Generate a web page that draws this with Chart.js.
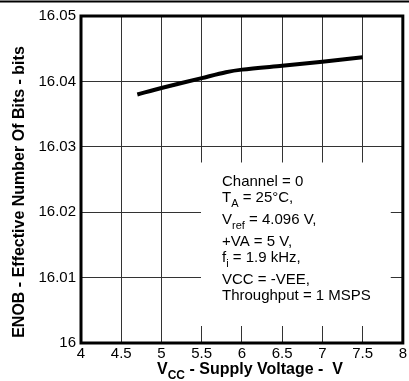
<!DOCTYPE html>
<html>
<head>
<meta charset="utf-8">
<script src="https://cdn.jsdelivr.net/npm/chart.js@4.4.1/dist/chart.umd.min.js"></script>
<style>
    html, body { margin: 0; padding: 0; background: #fff; }
    canvas { display: block; }
</style>
</head>
<body>
<canvas id="enobChart" width="409" height="381"></canvas>
<script>
// Data
const supplyVoltage = [4.7, 5.0, 5.5, 5.8, 6.0, 6.5, 7.0, 7.5];
const enobBits = [16.038, 16.039, 16.0405, 16.0414, 16.0418, 16.0424, 16.043, 16.0437];

// Axis ranges / ticks
const xTicks = { min: 4, max: 8, step: 0.5 };
const yTicks = { min: 16, max: 16.05, step: 0.01 };

// Conditions box: each line is a list of [text, isSubscript]
const noteLines = [
    [['Channel = 0', false]],
    [['T', false], ['A', true], [' = 25°C,', false]],
    [['V', false], ['ref', true], [' = 4.096 V,', false]],
    [['+VA = 5 V,', false]],
    [['f', false], ['i', true], [' = 1.9 kHz,', false]],
    [['VCC = -VEE,', false]],
    [['Throughput = 1 MSPS', false]]
];

const FONT = '"Liberation Sans", Arial, sans-serif';

// Draw a run of text pieces with subscripts
function drawPieces(ctx, pieces, x, y, size, bold) {
    const weight = bold ? 'bold ' : '';
    pieces.forEach(([txt, sub]) => {
        ctx.font = weight + (sub ? Math.round(size * 0.72) : size) + 'px ' + FONT;
        ctx.fillText(txt, x, sub ? y + 5 : y);
        x += ctx.measureText(txt).width;
    });
}

const decorPlugin = {
    id: 'decor',
    beforeDatasetsDraw(chart) {
        // white conditions box sits over the grid
        const ctx = chart.ctx;
        const xs = chart.scales.x, ys = chart.scales.y;
        const left = Math.round(xs.getPixelForValue(5.5)) - 1;
        const right = xs.getPixelForValue(7.85);
        const top = ys.getPixelForValue(16.0276);
        const bottom = ys.getPixelForValue(16.0026);
        ctx.save();
        ctx.fillStyle = '#fff';
        ctx.fillRect(left, top, right - left, bottom - top);

        ctx.fillStyle = '#000';
        ctx.textBaseline = 'alphabetic';
        let y = top + 24;
        let prevSub = false;
        noteLines.forEach((line, i) => {
            if (i > 0) y += prevSub ? 22 : 16;
            drawPieces(ctx, line, left + 21, y, 15, false);
            prevSub = line.some(p => p[1]);
        });
        ctx.restore();
    },
    afterDraw(chart) {
        const ctx = chart.ctx;
        const a = chart.chartArea;
        ctx.save();
        // plot frame
        ctx.strokeStyle = '#000';
        ctx.lineWidth = 3;
        ctx.strokeRect(a.left, a.top, a.right - a.left, a.bottom - a.top);
        // rule across the very top
        ctx.lineWidth = 2;
        ctx.beginPath();
        ctx.moveTo(0, 1.5);
        ctx.lineTo(chart.width, 1.5);
        ctx.stroke();

        ctx.fillStyle = '#000';
        // x axis title
        ctx.textBaseline = 'alphabetic';
        drawPieces(ctx, [['V', false], ['CC', true], [' - Supply Voltage -  V', false]], 157, 374, 16, true);
        // y axis title
        ctx.translate(20, 192);
        ctx.rotate(-Math.PI / 2);
        ctx.textAlign = 'center';
        ctx.textBaseline = 'middle';
        ctx.font = 'bold 16px ' + FONT;
        ctx.fillText('ENOB - Effective Number Of Bits - bits', 0, 0);
        ctx.restore();
    }
};

const points = supplyVoltage.map((v, i) => ({ x: v, y: enobBits[i] }));

new Chart(document.getElementById('enobChart'), {
    type: 'line',
    data: {
        datasets: [{
            data: points,
            borderColor: '#000',
            borderWidth: 4,
            pointRadius: 0,
            tension: 0.3,
            fill: false
        }]
    },
    options: {
        responsive: false,
        animation: false,
        layout: { padding: { top: 16, right: 2, left: 0, bottom: 0 } },
        plugins: { legend: { display: false }, tooltip: { enabled: false } },
        scales: {
            x: {
                type: 'linear',
                min: xTicks.min,
                max: xTicks.max,
                afterFit: s => { s.height = 38; },
                grid: { color: '#333', lineWidth: 1, drawTicks: false },
                border: { display: false },
                ticks: {
                    stepSize: xTicks.step,
                    padding: 2,
                    color: '#000',
                    maxRotation: 0,
                    font: { family: FONT, size: 15 },
                    callback: v => String(+v.toFixed(1))
                }
            },
            y: {
                min: yTicks.min,
                max: yTicks.max,
                afterFit: s => { s.width = 81; },
                grid: { color: '#333', lineWidth: 1, drawTicks: false },
                border: { display: false },
                ticks: {
                    stepSize: yTicks.step,
                    padding: 5,
                    color: '#000',
                    font: { family: FONT, size: 15 },
                    callback: v => String(+v.toFixed(2))
                }
            }
        }
    },
    plugins: [decorPlugin]
});
</script>
</body>
</html>
